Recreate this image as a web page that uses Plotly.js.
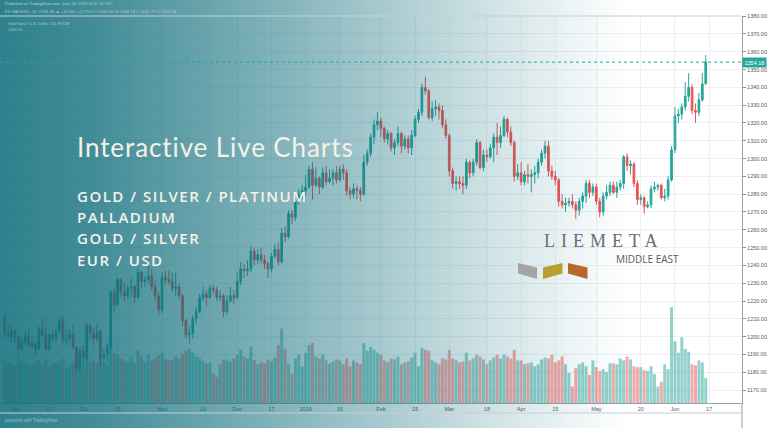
<!DOCTYPE html>
<html>
<head>
<meta charset="utf-8">
<script src="https://cdn.plot.ly/plotly-3.0.1.min.js"></script>
<style>
  html, body { margin: 0; padding: 0; background: #ffffff; overflow: hidden; }
  #chart { width: 768px; height: 428px; }
</style>
</head>
<body>
<div id="chart"></div>
<script>
// XAUUSD daily candles, 29 Aug 2018 – 14 Jun 2019 (one entry per trading day)
const opens = [
  1211,1202,1200,1203,1200,1193,1197,1200,1195,1196,
  1193,1204,1201,1193,1201,1199,1203,1209,1198,1199,
  1201,1194,1182,1192,1188,1206,1202,1199,1203,1188,
  1190,1194,1225,1218,1232,1225,1223,1227,1228,1222,
  1236,1231,1232,1234,1228,1223,1215,1233,1232,1231,
  1227,1228,1223,1209,1201,1202,1210,1214,1222,1224,
  1222,1227,1226,1222,1223,1214,1220,1223,1222,1231,
  1238,1237,1238,1248,1243,1246,1243,1241,1238,1245,
  1249,1242,1258,1256,1269,1267,1276,1280,1282,1284,
  1294,1285,1289,1284,1292,1287,1289,1292,1288,1294,
  1292,1282,1280,1283,1282,1280,1298,1303,1312,1319,
  1321,1317,1311,1314,1306,1309,1314,1307,1311,1306,
  1313,1322,1326,1340,1338,1323,1328,1329,1327,1319,
  1313,1293,1286,1287,1286,1285,1298,1292,1298,1309,
  1295,1302,1301,1306,1312,1309,1313,1322,1315,1309,
  1290,1292,1287,1291,1290,1291,1292,1298,1303,1307,
  1293,1290,1288,1276,1274,1275,1276,1274,1271,1276,
  1279,1286,1281,1284,1276,1270,1279,1281,1285,1281,
  1284,1286,1301,1296,1297,1286,1277,1278,1273,1274,
  1283,1284,1285,1278,1279,1288,1305,1324,1325,1329,
  1335,1340,1327,1326,1333,1342
];
const highs = [
  1214,1207,1206,1204,1201,1200,1203,1204,1200,1197,
  1206,1210,1206,1202,1204,1206,1211,1212,1204,1204,
  1207,1195,1194,1195,1208,1207,1205,1208,1204,1193,
  1196,1226,1228,1233,1233,1230,1229,1233,1229,1239,
  1237,1234,1243,1238,1232,1225,1236,1237,1237,1236,
  1236,1230,1224,1210,1206,1212,1217,1224,1228,1226,
  1229,1229,1228,1226,1224,1223,1228,1226,1236,1242,
  1241,1243,1251,1250,1249,1250,1246,1242,1247,1252,
  1253,1261,1262,1271,1271,1278,1283,1285,1291,1296,
  1298,1295,1290,1295,1296,1294,1294,1296,1296,1297,
  1294,1284,1286,1285,1284,1302,1305,1314,1322,1326,
  1323,1318,1316,1315,1311,1318,1315,1313,1313,1316,
  1324,1328,1342,1346,1339,1332,1333,1331,1330,1322,
  1314,1295,1290,1290,1290,1300,1299,1300,1311,1310,
  1305,1305,1308,1314,1320,1318,1324,1323,1318,1310,
  1297,1298,1293,1297,1294,1296,1300,1305,1310,1310,
  1296,1293,1289,1280,1278,1278,1280,1276,1278,1281,
  1288,1288,1286,1286,1278,1281,1285,1287,1287,1287,
  1288,1302,1303,1299,1298,1288,1280,1279,1276,1285,
  1287,1286,1286,1283,1290,1307,1329,1328,1331,1343,
  1348,1342,1331,1337,1348,1358.18
];
const lows = [
  1200,1199,1197,1196,1190,1192,1195,1194,1193,1189,
  1193,1200,1192,1192,1197,1197,1202,1196,1195,1197,
  1193,1181,1180,1185,1187,1198,1195,1197,1183,1184,
  1186,1193,1214,1217,1222,1220,1221,1222,1219,1221,
  1227,1228,1230,1226,1220,1212,1213,1229,1229,1225,
  1223,1221,1206,1199,1196,1199,1207,1213,1220,1217,
  1221,1224,1220,1220,1211,1212,1219,1218,1221,1229,
  1233,1234,1236,1240,1241,1241,1238,1233,1236,1244,
  1240,1241,1253,1255,1263,1265,1274,1277,1279,1283,
  1277,1284,1280,1283,1285,1286,1285,1286,1287,1288,
  1279,1277,1278,1277,1276,1279,1296,1301,1308,1316,
  1312,1309,1308,1304,1302,1307,1303,1305,1303,1302,
  1312,1320,1324,1336,1322,1321,1324,1322,1317,1311,
  1290,1283,1282,1283,1280,1283,1289,1290,1296,1294,
  1293,1298,1300,1298,1302,1306,1312,1312,1307,1287,
  1288,1285,1285,1286,1281,1286,1289,1296,1300,1290,
  1288,1285,1273,1272,1270,1273,1272,1266,1268,1272,
  1275,1278,1279,1274,1267,1268,1277,1279,1280,1278,
  1282,1283,1293,1291,1284,1274,1274,1269,1272,1272,
  1281,1282,1277,1276,1277,1287,1303,1320,1322,1327,
  1332,1325,1320,1324,1332,1341.77
];
const closes = [
  1202,1200,1203,1200,1193,1197,1200,1195,1196,1193,
  1204,1201,1193,1201,1199,1203,1209,1198,1199,1201,
  1194,1182,1192,1188,1206,1202,1199,1203,1188,1190,
  1194,1225,1218,1232,1225,1223,1227,1228,1222,1236,
  1231,1232,1234,1228,1223,1215,1233,1232,1231,1227,
  1228,1223,1209,1201,1202,1210,1214,1222,1224,1222,
  1227,1226,1222,1223,1214,1220,1223,1222,1231,1238,
  1237,1238,1248,1243,1246,1243,1241,1238,1245,1249,
  1242,1258,1256,1269,1267,1276,1280,1282,1284,1294,
  1285,1289,1284,1292,1287,1289,1292,1288,1294,1292,
  1282,1280,1283,1282,1280,1298,1303,1312,1319,1321,
  1317,1311,1314,1306,1309,1314,1307,1311,1306,1313,
  1322,1326,1340,1338,1323,1328,1329,1327,1319,1313,
  1293,1286,1287,1286,1285,1298,1292,1298,1309,1295,
  1302,1301,1306,1312,1309,1313,1322,1315,1309,1290,
  1292,1287,1291,1290,1291,1292,1298,1303,1307,1293,
  1290,1288,1276,1274,1275,1276,1274,1271,1276,1279,
  1286,1281,1284,1276,1270,1279,1281,1285,1281,1284,
  1286,1301,1296,1297,1286,1277,1278,1273,1274,1283,
  1284,1285,1278,1279,1288,1305,1324,1325,1329,1335,
  1340,1327,1326,1333,1342,1354.18
];
// daily volume (thousands)
const volumes = [
  44,42,40,38,46,43,41,40,39,42,
  44,38,45,37,40,42,44,46,36,38,
  43,48,45,40,50,42,44,41,47,42,
  40,66,52,50,46,44,43,47,41,54,
  48,43,50,44,46,49,52,46,44,45,
  48,46,50,54,56,52,48,47,43,41,
  42,30,27,40,45,44,43,46,50,55,
  48,46,58,44,40,42,41,45,43,47,
  60,77,56,40,30,46,50,38,52,60,
  62,48,46,50,44,41,43,45,44,40,
  46,38,44,42,40,62,54,58,55,52,
  50,44,42,46,45,48,40,42,43,47,
  52,38,57,55,54,44,42,40,46,45,
  55,46,44,42,43,52,44,46,50,48,
  45,40,44,47,50,46,50,48,46,55,
  44,44,40,41,42,38,40,45,47,46,
  50,42,44,48,40,31,17,36,40,42,
  38,29,44,37,33,35,32,41,41,40,
  46,44,48,45,38,37,37,34,33,38,
  30,17,22,40,35,99,64,52,68,56,
  53,40,39,44,42,26
];

// bottom axis: trading-day position of each label
const tickIndex  = [3, 13, 23, 33, 46, 58, 68, 78, 88, 98, 110, 120, 130, 141, 151, 161, 173, 186, 196, 206];
const tickLabels = ['Sep','17','Oct','15','Nov','19','Dec','17','2019','16','Feb','15','Mar','18','Apr','15','May','20','Jun','17'];
const lastPrice = 1354.18;

const W = 768, H = 428;
const M = { l: 0, r: 26, t: 16, b: 25 };
const PW = W - M.l - M.r, PH = H - M.t - M.b;
const px = x => (x - M.l) / PW;          // pixel -> paper x
const py = y => (H - M.b - y) / PH;      // pixel -> paper y

const UP = '#26a69a', DN = '#ef5350';
const idx = closes.map((_, i) => i);
const volColors = closes.map((c, i) => c >= opens[i] ? 'rgba(38,166,154,0.5)' : 'rgba(239,83,80,0.5)');

// teal wash fading from the left edge to white
const cv = document.createElement('canvas');
cv.width = W; cv.height = H;
const g = cv.getContext('2d');
const lg = g.createLinearGradient(0, 0, W, 0);
[[0, 0.86], [0.12, 0.78], [0.25, 0.64], [0.5, 0.36], [0.65, 0.18], [0.75, 0.07], [0.82, 0.0], [1, 0]]
  .forEach(([s, a]) => lg.addColorStop(s, `rgba(12,108,122,${a})`));
g.fillStyle = lg;
g.fillRect(0, 0, W, H);

const volumeTrace = {
  type: 'bar', x: idx, y: volumes, yaxis: 'y',
  marker: { color: volColors, line: { width: 0 } },
  hoverinfo: 'skip', showlegend: false
};
const candleTrace = {
  type: 'candlestick', x: idx, open: opens, high: highs, low: lows, close: closes,
  yaxis: 'y2', whiskerwidth: 0,
  increasing: { line: { color: UP, width: 1 }, fillcolor: UP },
  decreasing: { line: { color: DN, width: 1 }, fillcolor: DN },
  hoverinfo: 'skip', showlegend: false
};

const small = { family: 'Liberation Sans, Arial, sans-serif', size: 5.5, color: '#555b61' };
const cream = '#f5f1e8';
const spaced = (t, s) => `<span style="letter-spacing:${s}px">${t}</span>`;
const subFont = { family: 'Open Sans, sans-serif', size: 15, weight: 600, color: cream };

const annotations = [
  { x: px(3), y: py(4), text: 'Published on TradingView.com, June 14, 2019 11:47:15 UTC',
    font: { family: small.family, size: 4, color: 'rgba(205,230,234,0.8)' } },
  { x: px(3), y: py(11), text: 'FX:XAUUSD, 1D 1354.26 ▲ +10.36 (+0.77%) O:1343.90 H:1358.18 L:1341.77 C:1354.18',
    font: { family: small.family, size: 4.3, color: 'rgba(190,222,228,0.85)' } },
  { x: px(6), y: py(23), text: 'Gold Spot / U.S. Dollar, 1D, FXCM',
    font: { family: small.family, size: 4, color: 'rgba(200,228,232,0.75)' } },
  { x: px(6), y: py(30), text: '1345.25',
    font: { family: small.family, size: 4, color: 'rgba(200,228,232,0.7)' } },
  { x: px(3), y: py(420), text: 'powered with TradingView',
    font: { family: small.family, size: 4.5, color: 'rgba(190,222,228,0.7)' } },
  { x: px(75), y: py(147), text: spaced('Interactive Live Charts', 0.9),
    font: { family: 'Lato, sans-serif', size: 26, color: cream } },
  { x: px(75), y: py(196), text: spaced('GOLD / SILVER / PLATINUM', 1.5), font: subFont },
  { x: px(75), y: py(217), text: spaced('PALLADIUM', 1.5), font: subFont },
  { x: px(75), y: py(238), text: spaced('GOLD / SILVER', 1.5), font: subFont },
  { x: px(75), y: py(260), text: spaced('EUR / USD', 1.5), font: subFont },
  { x: px(542), y: py(241), text: spaced('LIEMETA', 6),
    font: { family: 'Liberation Serif, serif', size: 18, color: '#6c6c6c' } },
  { x: px(614), y: py(259), text: 'MIDDLE EAST',
    font: { family: 'Open Sans, sans-serif', size: 10, color: '#5a5a5a' } }
].map(a => Object.assign({ xref: 'paper', yref: 'paper', xanchor: 'left', yanchor: 'middle', showarrow: false }, a));

// last price tag on the price scale
annotations.push({
  xref: 'paper', yref: 'y2', x: 1, y: lastPrice, xanchor: 'left', yanchor: 'middle',
  text: lastPrice.toFixed(2), showarrow: false, bgcolor: UP, borderpad: 1.5,
  font: { family: small.family, size: 5.5, color: '#ffffff' }
});

const para = pts => 'M ' + pts.map(([x, y]) => `${px(x)} ${py(y)}`).join(' L ') + ' Z';
const shapes = [
  { type: 'line', xref: 'paper', yref: 'y2', x0: 0, x1: 1, y0: lastPrice, y1: lastPrice,
    line: { color: UP, width: 1, dash: 'dot' } },
  { type: 'line', xref: 'paper', yref: 'paper', x0: 0, x1: 1, y0: py(16), y1: py(16),
    line: { color: '#c9ced3', width: 1 } },
  { type: 'line', xref: 'paper', yref: 'paper', x0: 0, x1: 1, y0: py(413), y1: py(413),
    line: { color: '#c9ced3', width: 1 } },
  { type: 'line', xref: 'paper', yref: 'paper', x0: 1, x1: 1, y0: py(403), y1: py(428),
    line: { color: '#9aa0a6', width: 1 } },
  { type: 'path', xref: 'paper', yref: 'paper', layer: 'above', line: { width: 0 },
    fillcolor: '#a4a4a4', path: para([[518, 263], [537, 267.5], [537, 279], [518, 273.5]]) },
  { type: 'path', xref: 'paper', yref: 'paper', layer: 'above', line: { width: 0 },
    fillcolor: '#b8a02c', path: para([[543, 267.5], [562.5, 263], [562.5, 273.5], [543, 279]]) },
  { type: 'path', xref: 'paper', yref: 'paper', layer: 'above', line: { width: 0 },
    fillcolor: '#b9672d', path: para([[568, 263], [587.5, 267.5], [587.5, 279], [568, 273.5]]) }
];

const layout = {
  width: W, height: H,
  margin: M,
  paper_bgcolor: '#ffffff', plot_bgcolor: '#ffffff',
  showlegend: false,
  bargap: 0.12,
  xaxis: {
    range: [-1.37, 215.6], rangeslider: { visible: false },
    tickmode: 'array', tickvals: tickIndex, ticktext: tickLabels,
    showgrid: true, gridcolor: '#eef1f4', gridwidth: 1, zeroline: false,
    ticks: '', tickfont: small,
    showline: true, linecolor: '#9aa0a6', linewidth: 1, fixedrange: true
  },
  yaxis: { range: [0, 400], visible: false, fixedrange: true },
  yaxis2: {
    overlaying: 'y', side: 'right', range: [1162.7, 1380.1],
    tick0: 0, dtick: 10, tickformat: '.2f',
    showgrid: true, gridcolor: '#eef1f4', gridwidth: 1, zeroline: false,
    ticks: 'outside', ticklen: 3, tickcolor: '#8a9096', tickfont: small,
    showline: true, linecolor: '#9aa0a6', linewidth: 1, fixedrange: true
  },
  images: [{
    source: cv.toDataURL('image/png'),
    xref: 'paper', yref: 'paper', x: px(0), y: py(0),
    sizex: W / PW, sizey: H / PH, xanchor: 'left', yanchor: 'top',
    sizing: 'stretch', layer: 'above', opacity: 1
  }],
  shapes: shapes,
  annotations: annotations
};

Plotly.newPlot('chart', [volumeTrace, candleTrace], layout, { staticPlot: true, displayModeBar: false });
</script>
</body>
</html>
